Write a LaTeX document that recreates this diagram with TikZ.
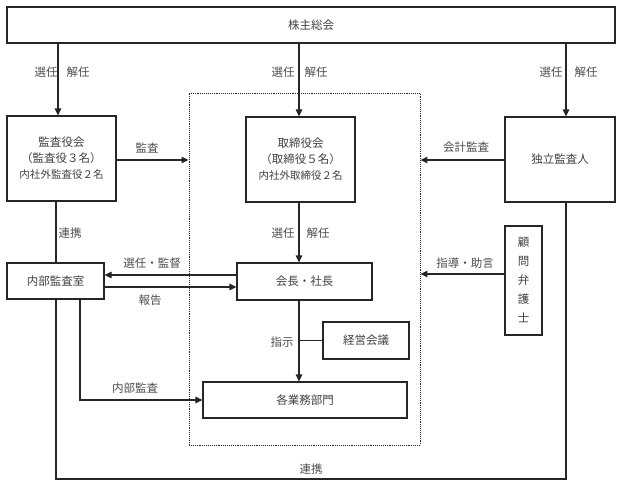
\documentclass[tikz,border=0pt]{standalone}
\usepackage{fontspec}
\setmainfont{Noto Sans CJK JP}
\usetikzlibrary{arrows.meta}
\tikzset{
  box/.style={draw=black!85, line width=1.2pt, rectangle, inner sep=0pt, text=black!75, font=\fontsize{11.5}{14}\selectfont, align=center},
  lbl/.style={text=black!70, font=\fontsize{11.5}{13}\selectfont, inner sep=0pt},
  conn/.style={draw=black!85, line width=1.2pt},
  arr/.style={conn, -{Triangle[length=7pt,width=6.5pt]}},
}
\begin{document}
\begin{tikzpicture}[x=1pt,y=-1pt]
\useasboundingbox (0,0) rectangle (623,486);
% group (dotted)
\node[draw=black!85, line width=0.9pt, densely dotted, minimum width=231pt, minimum height=352pt, inner sep=0pt] (grp) at (304.5,269) {};
% nodes
\node[box, minimum width=608pt, minimum height=36pt] (sh) at (311,25) {株主総会};
\node[box, minimum width=109pt, minimum height=85pt] (kansa) at (61.5,158.5) {監査役会\\[2pt]（監査役３名）\\[2pt]{\fontsize{10.5}{12}\selectfont 内社外監査役２名}};
\node[box, minimum width=109pt, minimum height=85pt] (tori) at (300.5,159.5) {取締役会\\[2pt]（取締役５名）\\[2pt]{\fontsize{10.5}{12}\selectfont 内社外取締役２名}};
\node[box, minimum width=110pt, minimum height=85pt] (dok) at (560,159.5) {独立監査人};
\node[box, minimum width=97pt, minimum height=36pt] (naibu) at (55.5,281) {内部監査室};
\node[box, minimum width=135pt, minimum height=37pt] (kaicho) at (304.5,281.5) {会長・社長};
\node[box, minimum width=37pt, minimum height=109pt, font=\fontsize{11.5}{19}\selectfont] (komon) at (523.5,280.5) {顧\\問\\弁\\護\\士};
\node[box, minimum width=86pt, minimum height=37pt] (keiei) at (366,340.5) {経営会議};
\node[box, minimum width=204pt, minimum height=36pt] (kaku) at (305,400) {各業務部門};
% helper coordinates
\coordinate (xL) at (58,0);
\coordinate (xC) at (299,0);
\coordinate (xR) at (566,0);
\coordinate (xN) at (56,0);
\coordinate (xI) at (80,0);
\coordinate (ySK) at (0,275);
\coordinate (yHK) at (0,287);
\coordinate (yKM) at (0,274);
\coordinate (yKA) at (0,160);
\coordinate (yB) at (0,479);
% connectors
\draw[arr] (sh.south -| xL) -- (kansa.north -| xL);
\draw[arr] (sh.south -| xC) -- (tori.north -| xC);
\draw[arr] (sh.south -| xR) -- (dok.north -| xR);
\draw[arr] (yKA -| kansa.east) -- (yKA -| grp.west);
\draw[arr] (yKA -| dok.west) -- (yKA -| grp.east);
\draw[arr] (yKM -| komon.west) -- (yKM -| grp.east);
\draw[arr] (tori.south -| xC) -- (kaicho.north -| xC);
\draw[arr] (ySK -| kaicho.west) -- (ySK -| naibu.east);
\draw[arr] (yHK -| naibu.east) -- (yHK -| kaicho.west);
\draw[conn] (kansa.south -| xN) -- (naibu.north -| xN);
\draw[arr] (kaicho.south -| xC) -- (kaku.north -| xC);
\draw[conn] (keiei.west -| xC) -- (keiei.west);
\draw[arr] (naibu.south -| xI) |- (kaku.west);
\draw[conn] (dok.south -| xR) -- (yB -| xR) -- (yB -| xN) -- (naibu.south -| xN);
% labels
\node[lbl] (l1a) at (46,72) {選任};
\node[lbl] (l1b) at (78,72) {解任};
\node[lbl] (l2a) at (283,72) {選任};
\node[lbl] (l2b) at (316,72) {解任};
\node[lbl] (l3a) at (551,72) {選任};
\node[lbl] (l3b) at (586,72) {解任};
\node[lbl] (lka) at (147,148) {監査};
\node[lbl] (lkk) at (466,147) {会計監査};
\node[lbl] (lsj) at (465,263) {指導・助言};
\node[lbl] (lsk) at (152,263) {選任・監督};
\node[lbl] (lhk) at (150,300) {報告};
\node[lbl] (lrn) at (70,233) {連携};
\node[lbl] (l4a) at (283,233) {選任};
\node[lbl] (l4b) at (318,233) {解任};
\node[lbl] (lsi) at (282,342) {指示};
\node[lbl] (lnk) at (135,388) {内部監査};
\node[lbl] (lrn2) at (311,469) {連携};
\end{tikzpicture}
\end{document}
